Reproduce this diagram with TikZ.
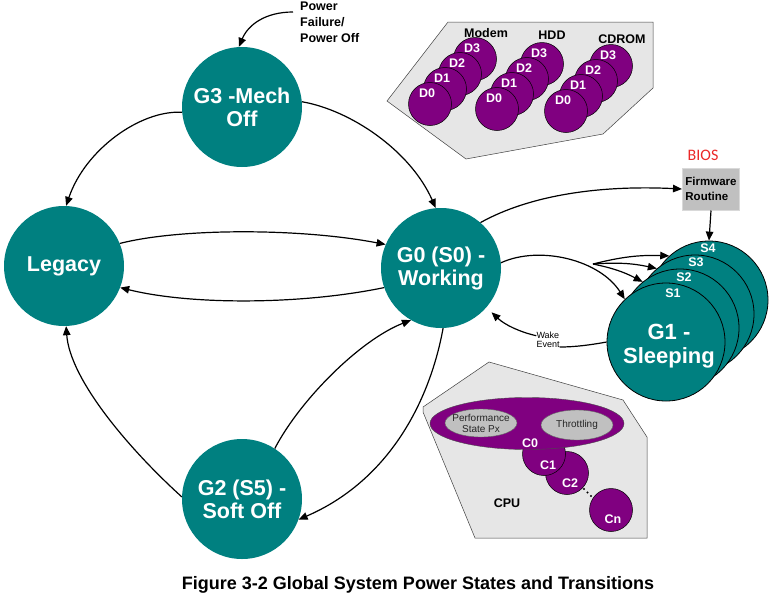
\documentclass[tikz,border=0pt]{standalone}
\usepackage{fontspec}
\setmainfont{Liberation Sans}
\newfontfamily\carl{Carlito}
\usetikzlibrary{arrows.meta}
\definecolor{tealc}{RGB}{0,128,128}
\definecolor{purc}{RGB}{128,0,128}
\definecolor{panelc}{RGB}{230,230,230}
\definecolor{boxc}{RGB}{192,192,192}
\definecolor{biosc}{RGB}{235,40,40}
\begin{document}
\begin{tikzpicture}[x=1pt,y=-1pt,
 state/.style={circle,fill=tealc,minimum size=120pt,inner sep=0pt,text=white,align=center,font=\bfseries\fontsize{21.5}{23}\selectfont},
 scirc/.style={circle,fill=tealc,draw=black,line width=0.8pt,minimum size=118pt,inner sep=0pt},
 dcirc/.style={circle,fill=purc,draw=black,line width=0.5pt,minimum size=43pt,inner sep=0pt},
 wlab/.style={text=white,inner sep=0pt,font=\bfseries\fontsize{12.5}{13}\selectfont},
 blab/.style={text=black,inner sep=0pt,font=\bfseries\fontsize{12.5}{13}\selectfont},
 panel/.style={fill=panelc,draw=black!75,line width=0.5pt},
 arr/.style={-{Triangle[length=9pt,width=7.5pt]},line width=1.2pt},
]
\useasboundingbox (0,0) rectangle (778,600);
\fill[white] (0,0) rectangle (778,600);

% ---------- device panel ----------
\draw[panel] (448,22) -- (653,22) -- (653,88) -- (603,134) -- (466,159) -- (387,101) -- cycle;
\foreach \dev/\x/\y in {m/430/104,h/497/109,c/566/111}{
  \foreach \i in {3,2,1,0}{
    \node[dcirc] (\dev\i) at ({\x+15*\i},{\y-15*\i}) {};
    \node[wlab] (\dev l\i) at ({\x+15*\i-3},{\y-15*\i-11}) {D\i};
  }
}
\node[blab] (modem) at (486,33) {Modem};
\node[blab] (hdd) at (552,35) {HDD};
\node[blab] (cdrom) at (622,39) {CDROM};

% ---------- CPU panel ----------
\draw[panel] (489,362) -- (623,400) -- (647,437) -- (647,538) -- (475,538) -- (423,412) -- (423,407) -- cycle;
\node[dcirc] (cn) at (611,510) {};
\node[dcirc] (c2) at (567,473) {};
\node[dcirc] (c1) at (544,454) {};
\fill[purc] (527,423.5) ellipse [x radius=97pt, y radius=26pt];
\draw[black!70,line width=0.4pt] (527,423.5) ellipse [x radius=97pt, y radius=26pt];
\draw[fill=boxc,draw=black!60,line width=0.4pt] (481,423) ellipse [x radius=36pt, y radius=14pt];
\draw[fill=boxc,draw=black!60,line width=0.4pt] (577,425) ellipse [x radius=36pt, y radius=15pt];
\node[inner sep=0pt,align=center,text=black!85,font=\fontsize{10}{11}\selectfont] (perf) at (481,423) {Performance\\State Px};
\node[inner sep=0pt,text=black!85,font=\fontsize{10}{11}\selectfont] (thr) at (577,425) {Throttling};
\node[wlab] (c0l) at (530,443) {C0};
\node[wlab] (c1l) at (548,465) {C1};
\node[wlab] (c2l) at (570,483) {C2};
\node[wlab] (cnl) at (613,519) {Cn};
\fill (584,489) circle (1.2pt) (587.5,492.5) circle (1.2pt) (591,496) circle (1.2pt);
\node[blab] (cpu) at (507,503) {CPU};

% ---------- main states ----------
\node[state] (G3) at (242,107) {G3 -Mech\\Off};
\node[state] (L) at (64,266) {Legacy};
\node[state] (G0) at (441,268) {G0 (S0) -\\Working};
\node[state] (G2) at (242,499) {G2 (S5) -\\Soft Off};

% ---------- sleeping stack ----------
\node[scirc] (S4c) at (709,300) {};
\node[scirc] (S3c) at (695,314) {};
\node[scirc] (S2c) at (680,328) {};
\node[scirc] (S1c) at (666,342) {};
\node[text=white,align=center,inner sep=0pt,font=\bfseries\fontsize{22}{24}\selectfont] (g1t) at (669,346) {G1 -\\Sleeping};
\node[wlab] (s4l) at (708,248) {S4};
\node[wlab] (s3l) at (696,262) {S3};
\node[wlab] (s2l) at (684,277) {S2};
\node[wlab] (s1l) at (673,293) {S1};

% ---------- firmware ----------
\node[fill=boxc,draw=black!15,line width=1pt,minimum width=57pt,minimum height=42pt,inner sep=2pt,align=left,font=\bfseries\fontsize{11.5}{15}\selectfont] (FW) at (711,189) {Firmware\\Routine};
\node[text=biosc,inner sep=0pt,font=\carl\fontsize{16}{16}\selectfont] (bios) at (703,155) {BIOS};

% ---------- texts ----------
\node[inner sep=0pt,align=left,anchor=north west,font=\bfseries\fontsize{12.5}{15.7}\selectfont] (pf) at (300,2) {Power\\Failure/\\Power Off};
\node[inner sep=0pt,align=left,font=\fontsize{9}{9.5}\selectfont] (wake) at (548,340) {Wake\\Event};
\node[inner sep=0pt,font=\bfseries\fontsize{18}{19}\selectfont] (cap) at (418,585) {Figure 3-2 Global System Power States and Transitions};

% ---------- connectors ----------
\coordinate (pfs) at (293,12);
\draw[arr] (pfs) .. controls (265,12) and (248,25) .. (G3.93);
\draw[arr] (G3.185) .. controls (140,110) and (85,150) .. (L.88);
\draw[arr] (G3.5) .. controls (350,110) and (410,150) .. (G0.95);
\draw[arr] (L.22) .. controls (180,228) and (300,228) .. (G0.157);
\draw[arr] (G0.199) .. controls (300,305) and (190,305) .. (L.-21);
\draw[arr] (G2.178) .. controls (130,450) and (70,380) .. (L.272);
\draw[arr] (G2.57) .. controls (300,400) and (360,340) .. (G0.240);
\draw[arr] (G0.272) .. controls (430,400) and (390,480) .. (G2.-20);
\draw[arr] (G0.49) .. controls (530,195) and (600,185) .. (FW.west);
\draw[arr] (FW.south) -- (S4c.north);
\draw[arr] (G0.5) .. controls (540,245) and (600,260) .. (S1c.134);
\coordinate (br) at (593,264);
\draw[arr] (br) to[bend left=8] (S4c.132);
\draw[arr] (br) to[bend left=8] (S3c.130);
\draw[arr] (br) to[bend left=8] (S2c.129);
\draw[line width=1.2pt] (S1c.180) .. controls (590,345) and (575,347) .. (wake.east |- 0,347);
\draw[arr,shorten >=7pt] (wake.160) .. controls (520,332) and (505,325) .. (G0.-41);
\end{tikzpicture}
\end{document}
